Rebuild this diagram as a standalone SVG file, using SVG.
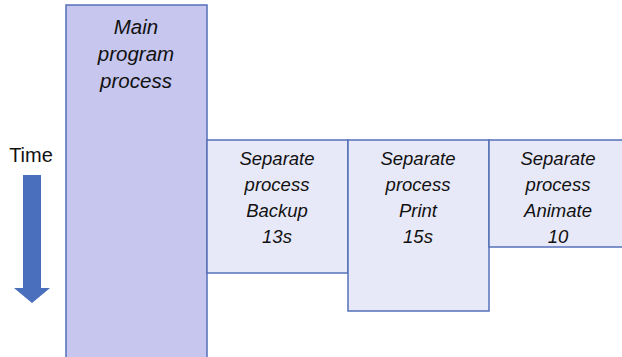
<svg xmlns="http://www.w3.org/2000/svg" width="622" height="357" viewBox="0 0 622 357">
<style>
.box{stroke:#5470b8;stroke-width:1.5}
.main{fill:#c6c6ee}
.sub{fill:#e8e9f8}
.t{font-family:"Liberation Sans",Arial,sans-serif;font-style:italic;font-size:18.5px;fill:#111;text-anchor:middle}
.tm{font-size:20.5px}
</style>
<rect width="622" height="357" fill="#fff"/>
<g id="main">
<rect class="box main" x="66" y="5" width="141" height="360"/>
<text class="t tm" x="136" y="34">Main</text>
<text class="t tm" x="136" y="61">program</text>
<text class="t tm" x="136" y="88">process</text>
</g>
<g id="backup">
<rect class="box sub" x="207" y="140" width="141" height="133"/>
<text class="t" x="277" y="165">Separate</text>
<text class="t" x="277" y="191">process</text>
<text class="t" x="277" y="217">Backup</text>
<text class="t" x="277" y="243">13s</text>
</g>
<g id="print">
<rect class="box sub" x="348" y="140" width="141" height="171"/>
<text class="t" x="418" y="165">Separate</text>
<text class="t" x="418" y="191">process</text>
<text class="t" x="418" y="217">Print</text>
<text class="t" x="418" y="243">15s</text>
</g>
<g id="animate">
<rect class="box sub" x="489" y="140" width="140" height="107"/>
<text class="t" x="558" y="165">Separate</text>
<text class="t" x="558" y="191">process</text>
<text class="t" x="558" y="217">Animate</text>
<text class="t" x="558" y="243">10</text>
</g>
<g id="time">
<text x="31" y="162" font-family="'Liberation Sans',Arial,sans-serif" font-size="20" fill="#111" text-anchor="middle">Time</text>
</g>
<g id="connectors">
<polygon points="23,175 41,175 41,288 50,288 32,303 14,288 23,288" fill="#4a6fbd"/>
</g>
</svg>
